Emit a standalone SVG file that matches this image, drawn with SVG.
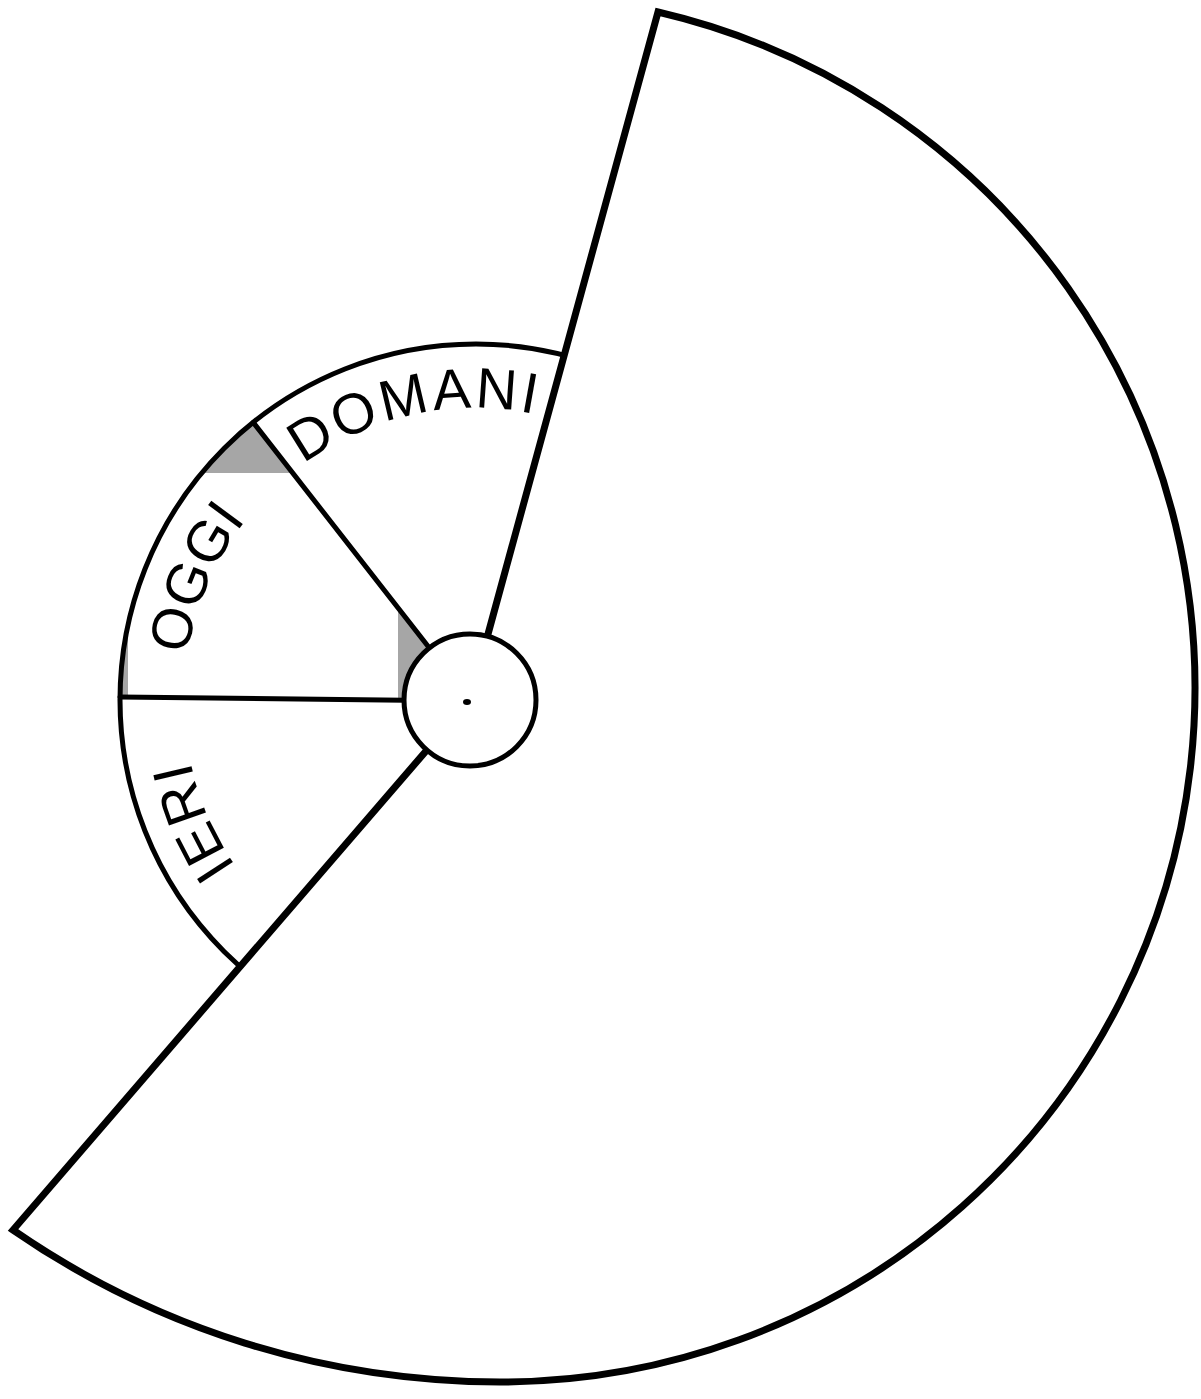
<svg xmlns="http://www.w3.org/2000/svg" xmlns:xlink="http://www.w3.org/1999/xlink" width="1201" height="1399" viewBox="0 0 1201 1399">
  <style>
    .ln { fill: none; stroke: #000; stroke-width: 5; stroke-linecap: round; }
    .lbl { font-family: "Liberation Sans", Arial, sans-serif; font-size: 57px; fill: #000; }
  </style>
  <defs>
    <path id="labelArc" d="M 252.3,887.7 A 292 292 0 0 1 575.9,425.6"/>
  </defs>
  <rect width="1201" height="1399" fill="#fff"/>

  <g id="inner-disc">
    <circle cx="476" cy="700" r="356" fill="#fff"/>
    <path id="oggi-gray" d="M 470,700 L 120,697 A 356 356 0 0 1 253.2,422.4 Z" fill="#a6a6a6"/>
    <rect x="128" y="473" width="270" height="225" fill="#fff"/>
    <circle cx="476" cy="700" r="356" class="ln" stroke-width="6"/>
    <line x1="120" y1="697" x2="470" y2="701" class="ln"/>
    <line x1="253.2" y1="422.4" x2="470" y2="700" class="ln"/>
  </g>

  <g id="big-sector">
    <path d="M 658,12 A 694 694 0 0 1 500,1382 A 856 856 0 0 1 13,1230 L 470,700 Z" fill="#fff" stroke="#000" stroke-width="7" stroke-linejoin="miter" stroke-miterlimit="10"/>
  </g>

  <g id="hub">
    <circle cx="470" cy="700" r="66" fill="#fff" stroke="#000" stroke-width="5"/>
    <ellipse cx="467" cy="702" rx="4" ry="3" fill="#000"/>
  </g>

  <g id="labels">
    <text class="lbl" letter-spacing="1.5"><textPath xlink:href="#labelArc" href="#labelArc" startOffset="27">IERI</textPath></text>
    <text class="lbl" letter-spacing="0"><textPath xlink:href="#labelArc" href="#labelArc" startOffset="249">OGGI</textPath></text>
    <text class="lbl" letter-spacing="3"><textPath xlink:href="#labelArc" href="#labelArc" startOffset="478">DOMANI</textPath></text>
  </g>
</svg>
